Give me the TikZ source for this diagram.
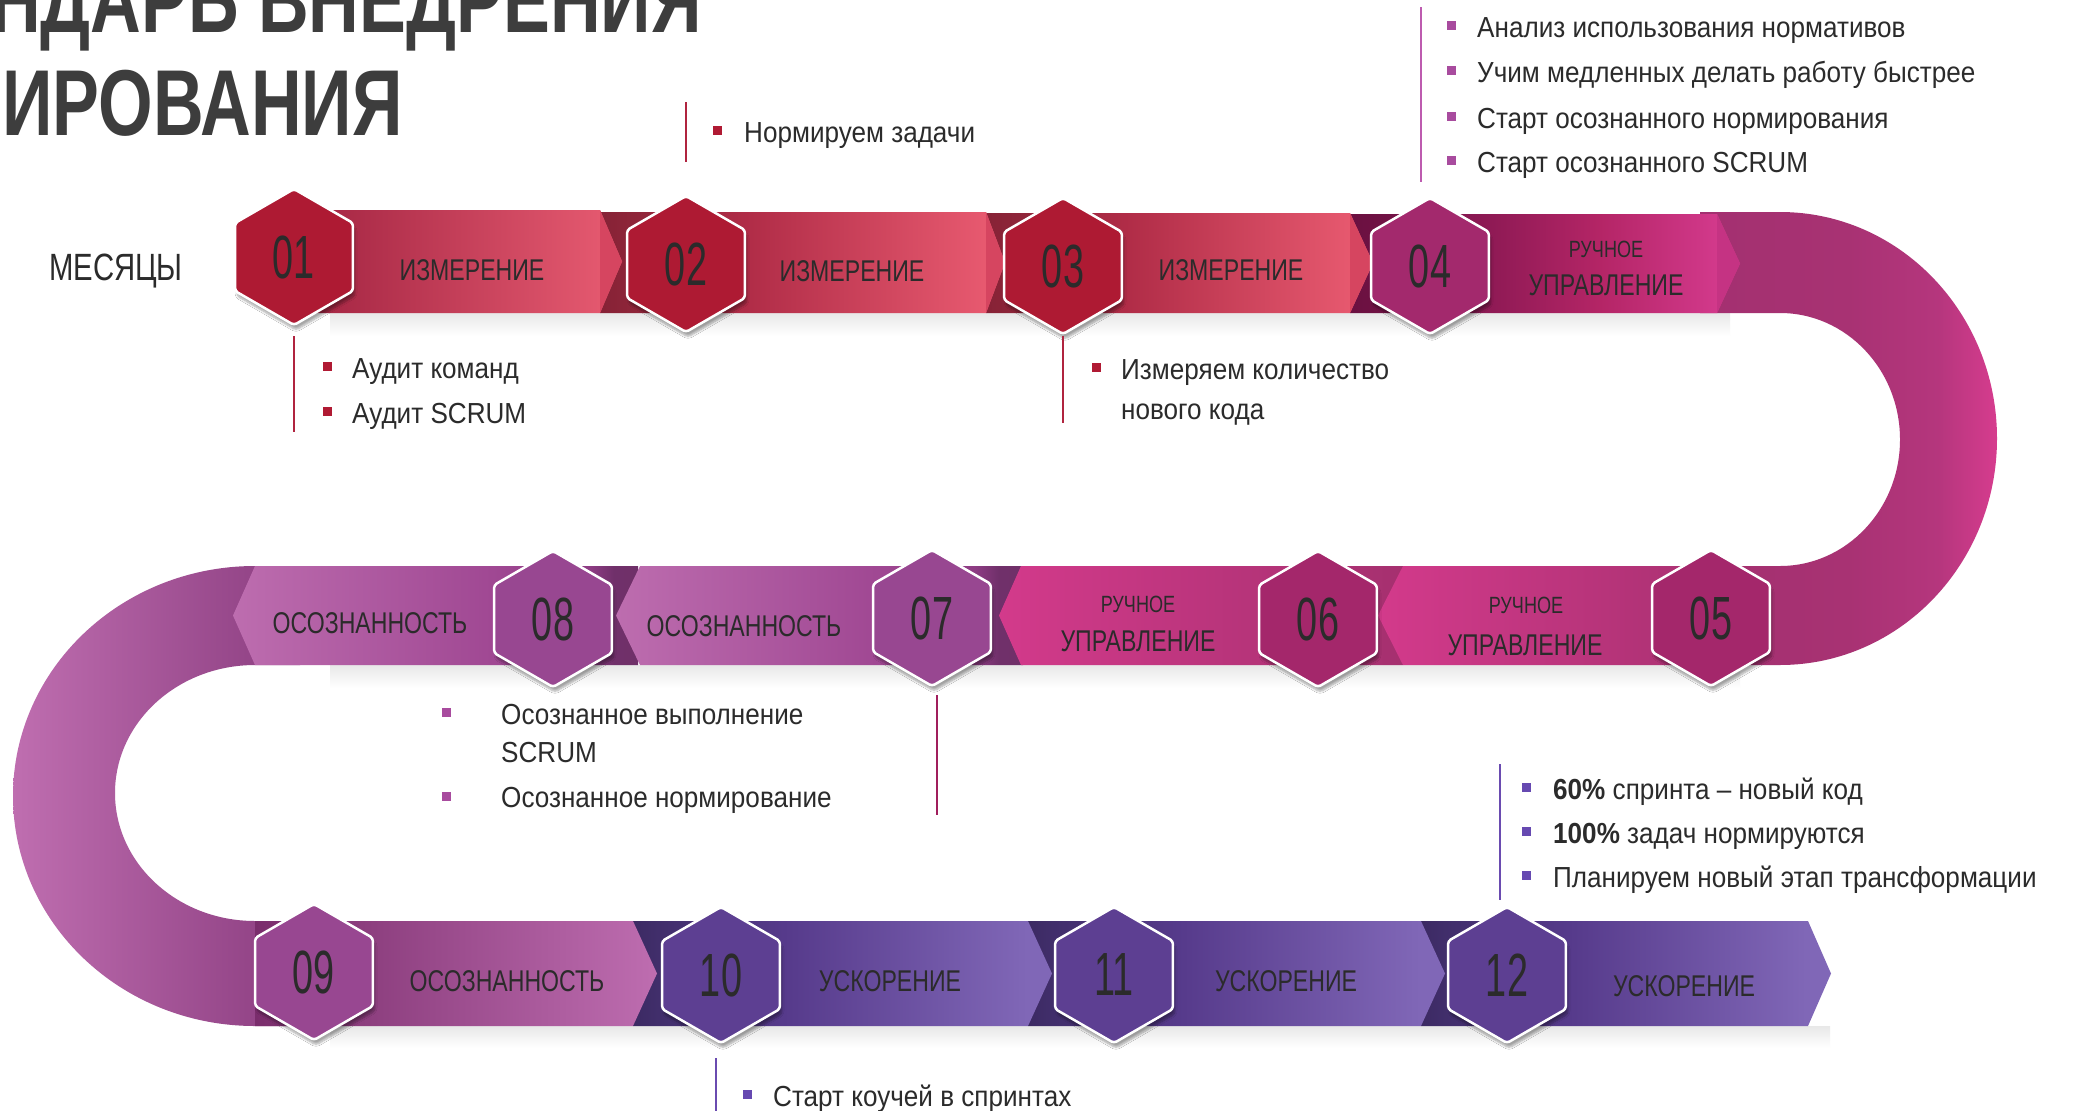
\documentclass[tikz,border=0pt]{standalone}
\usepackage{fontspec}
\setmainfont{Liberation Sans}
\newfontfamily\bodyf[FakeStretch=0.9]{Liberation Sans}
\newfontfamily\condf[FakeStretch=0.77]{Liberation Sans}
\newfontfamily\numf[FakeStretch=0.62]{Liberation Sans}
\newfontfamily\titlef[FakeStretch=0.75]{Liberation Sans}
\usetikzlibrary{shapes.geometric,shadows.blur}

\definecolor{txtc}{HTML}{2B2B2B}
\definecolor{ttlc}{HTML}{3D3D3D}
\definecolor{hexred}{HTML}{AE1A33}
\definecolor{hexmag}{HTML}{A3296D}
\definecolor{hexmagb}{HTML}{A4276B}
\definecolor{hexorc}{HTML}{984791}
\definecolor{hexind}{HTML}{5D3F92}
\definecolor{bulred}{HTML}{B01A33}
\definecolor{bulmag}{HTML}{A84B9E}
\definecolor{bulind}{HTML}{6649B1}
\definecolor{linred}{HTML}{B0243F}
\definecolor{linmag}{HTML}{BD5BAF}
\definecolor{linsev}{HTML}{A01E5C}
\definecolor{linind}{HTML}{6A4BB0}
\definecolor{tipred}{HTML}{D64560}
\definecolor{tipmag}{HTML}{C53383}
\definecolor{sOa}{HTML}{A02240}
\definecolor{sOb}{HTML}{E85C72}
\definecolor{pk}{HTML}{D33A8B}
\definecolor{pkd}{HTML}{A5306F}
\definecolor{sNa}{HTML}{7A2D6C}
\definecolor{sNb}{HTML}{BE6DB0}
\definecolor{cLa}{HTML}{BF6EB0}
\definecolor{cLb}{HTML}{86387B}

\definecolor{rA}{HTML}{862236}
\definecolor{rB}{HTML}{8E2539}
\definecolor{rC}{HTML}{B02C47}
\definecolor{rD}{HTML}{E85A70}
\pgfdeclarehorizontalshading{shRed}{100bp}{color(0bp)=(rA); color(25bp)=(rA); color(29bp)=(rB); color(43bp)=(rC); color(73bp)=(rD); color(100bp)=(rD)}
\definecolor{mA}{HTML}{6A1040}
\definecolor{mB}{HTML}{701244}
\definecolor{mC}{HTML}{8F1A55}
\definecolor{mD}{HTML}{B42566}
\definecolor{mE}{HTML}{D2398B}
\pgfdeclarehorizontalshading{shMag}{100bp}{color(0bp)=(mA); color(25bp)=(mA); color(29bp)=(mB); color(43bp)=(mC); color(57bp)=(mD); color(72bp)=(mE); color(100bp)=(mE)}
\definecolor{oA}{HTML}{BD6DAF}
\definecolor{oB}{HTML}{A04893}
\definecolor{oC}{HTML}{8E3C84}
\definecolor{oD}{HTML}{70306A}
\definecolor{oE}{HTML}{6A2B5E}
\pgfdeclarehorizontalshading{shOrc}{100bp}{color(0bp)=(oA); color(25bp)=(oA); color(57bp)=(oB); color(69bp)=(oC); color(72bp)=(oD); color(100bp)=(oE)}
\definecolor{iA}{HTML}{3C2A63}
\definecolor{iB}{HTML}{412E6B}
\definecolor{iC}{HTML}{563A8B}
\definecolor{iD}{HTML}{8067B7}
\pgfdeclarehorizontalshading{shInd}{100bp}{color(0bp)=(iA); color(25bp)=(iA); color(28bp)=(iB); color(43bp)=(iC); color(72bp)=(iD); color(100bp)=(iD)}
\definecolor{cA}{HTML}{A33070}
\definecolor{cB}{HTML}{A83273}
\definecolor{cC}{HTML}{B5367D}
\definecolor{cD}{HTML}{D63C8E}
\pgfdeclarehorizontalshading{shCurve}{100bp}{color(0bp)=(cA); color(25bp)=(cA); color(50bp)=(cB); color(65bp)=(cC); color(75bp)=(cD); color(100bp)=(cD)}

\newcommand\ribbon[6]{\shade[#6] (#1,#4) -- (#2,#4) -- (#3,{(#4+#5)/2}) -- (#2,#5) -- (#1,#5) -- cycle;}
\newcommand\tipR[5]{\fill[#5] (#1,#3) -- (#2,{(#3+#4)/2}) -- (#1,#4) -- cycle;}

\begin{document}
\begin{tikzpicture}[x=1pt,y=-1pt,
  hexa/.style={regular polygon, regular polygon sides=6, shape border rotate=30, minimum size=136pt, inner sep=0pt, draw=white, line width=2.5pt, rounded corners=3pt, blur shadow={shadow xshift=2pt, shadow yshift=-5pt, shadow opacity=35, shadow blur steps=8}, font=\numf\fontsize{61}{61}\selectfont, text=txtc},
  lbl/.style={font=\condf\fontsize{30}{30}\selectfont, text=txtc, inner sep=0pt, anchor=base},
  lbls/.style={font=\condf\fontsize{23.5}{24}\selectfont, text=txtc, inner sep=0pt, anchor=base},
  btxt/.style={font=\bodyf\fontsize{29}{30}\selectfont, text=txtc, inner sep=0pt, anchor=base west},
  bul/.style={rectangle, minimum size=9pt, inner sep=0pt, fill=#1},
  vline/.style={draw=#1, line width=2pt},
  ttl/.style={font=\titlef\bfseries\fontsize{93.6}{94}\selectfont, text=ttlc, inner sep=0pt, anchor=base east},
  bandshadow/.style={top color=black!9, bottom color=white}
]
\path[use as bounding box] (0,0) rectangle (2083,1111);
\clip (0,0) rectangle (2083,1111);
\fill[white] (0,0) rectangle (2083,1111);

% title
\node[ttl] (title1) at (702,32) {КАЛЕНДАРЬ ВНЕДРЕНИЯ};
\node[ttl] (title2) at (403,135) {НОРМИРОВАНИЯ};

% band shadows
\shade[bandshadow] (330,313) rectangle (1730,336);
\shade[bandshadow] (330,665) rectangle (1740,688);
\shade[bandshadow] (330,1026) rectangle (1830,1048);

% curves
\shade[shading=shCurve] (1700,212) -- (1780,212) arc[start angle=-90,end angle=90,x radius=217,y radius=226.5] -- (1740,665) -- (1740,566) -- (1780,566) arc[start angle=90,end angle=-90,x radius=120,y radius=126.5] -- (1700,313) -- cycle;
\shade[left color=cLa, right color=cLb] (300,566) -- (255,566) arc[start angle=270,end angle=90,x radius=242,y radius=230] -- (330,1026) -- (330,921) -- (255,921) arc[start angle=90,end angle=270,x radius=140,y radius=128] -- (300,665) -- cycle;

% row 1
\ribbon{1350}{1717}{1740}{214}{313}{shading=shMag}
\tipR{1717}{1740}{214}{313}{tipmag}
\ribbon{986}{1350}{1373}{213}{313}{shading=shRed}
\tipR{1350}{1373}{213}{313}{tipred}
\ribbon{600}{986}{1005}{212}{313}{shading=shRed}
\tipR{986}{1005}{212}{313}{tipred}
\ribbon{294}{600}{622}{210}{313}{left color=sOa, right color=sOb}
\tipR{600}{622}{210}{313}{tipred}

% row 2
\ribbon{638}{255}{233}{566}{665}{shading=shOrc}
\ribbon{1023}{640}{616}{566}{665}{shading=shOrc}
\ribbon{1403}{1021}{999}{566}{665}{left color=pk, right color=pkd}
\ribbon{1750}{1403}{1378}{566}{665}{left color=pk, right color=pkd}

% row 3
\ribbon{1421}{1808}{1831}{921}{1026}{shading=shInd}
\ribbon{1028}{1421}{1445}{921}{1026}{shading=shInd}
\ribbon{633}{1028}{1052}{921}{1026}{shading=shInd}
\ribbon{255}{633}{657}{921}{1026}{left color=sNa, right color=sNb}

% hexagons
\node[hexa, fill=hexred] (h01) at (294,257) {01};
\node[hexa, fill=hexred] (h02) at (686,264) {02};
\node[hexa, fill=hexred] (h03) at (1063,266) {03};
\node[hexa, fill=hexmag] (h04) at (1430,266) {04};
\node[hexa, fill=hexmagb] (h05) at (1711,618) {05};
\node[hexa, fill=hexmagb] (h06) at (1318,619) {06};
\node[hexa, fill=hexorc] (h07) at (932,618) {07};
\node[hexa, fill=hexorc] (h08) at (553,619) {08};
\node[hexa, fill=hexorc] (h09) at (314,972) {09};
\node[hexa, fill=hexind] (h10) at (721,975) {10};
\node[hexa, fill=hexind] (h11) at (1114,975) {11};
\node[hexa, fill=hexind] (h12) at (1507,975) {12};

% band labels
\node[font=\condf\fontsize{38}{38}\selectfont, text=txtc, inner sep=0pt, anchor=base] (months) at (116,280) {МЕСЯЦЫ};
\node[lbl] (lab1) at (472,280) {ИЗМЕРЕНИЕ};
\node[lbl] (lab2) at (852,281) {ИЗМЕРЕНИЕ};
\node[lbl] (lab3) at (1231,280) {ИЗМЕРЕНИЕ};
\node[lbls] (lab4a) at (1606,257) {РУЧНОЕ};
\node[lbl] (lab4b) at (1606,295) {УПРАВЛЕНИЕ};
\node[lbls] (lab5a) at (1526,613) {РУЧНОЕ};
\node[lbl] (lab5b) at (1525,655) {УПРАВЛЕНИЕ};
\node[lbls] (lab6a) at (1138,612) {РУЧНОЕ};
\node[lbl] (lab6b) at (1138,651) {УПРАВЛЕНИЕ};
\node[lbl] (lab7) at (744,636) {ОСОЗНАННОСТЬ};
\node[lbl] (lab8) at (370,633) {ОСОЗНАННОСТЬ};
\node[lbl] (lab9) at (507,991) {ОСОЗНАННОСТЬ};
\node[lbl] (lab10) at (890,991) {УСКОРЕНИЕ};
\node[lbl] (lab11) at (1286,991) {УСКОРЕНИЕ};
\node[lbl] (lab12) at (1684,996) {УСКОРЕНИЕ};

% notes: month 01
\coordinate (v1a) at (294,336); \coordinate (v1b) at (294,432);
\draw[vline=linred] (v1a) -- (v1b);
\node[bul=bulred] (b1a) at (327,366) {};
\node[btxt] (t1a) at (352,378) {Аудит команд};
\node[bul=bulred] (b1b) at (327,411) {};
\node[btxt] (t1b) at (352,423) {Аудит SCRUM};

% month 02
\coordinate (v2a) at (686,102); \coordinate (v2b) at (686,162);
\draw[vline=linred] (v2a) -- (v2b);
\node[bul=bulred] (b2) at (717,130) {};
\node[btxt] (t2) at (744,142) {Нормируем задачи};

% month 03
\coordinate (v3a) at (1063,336); \coordinate (v3b) at (1063,423);
\draw[vline=linred] (v3a) -- (v3b);
\node[bul=bulred] (b3) at (1096,367) {};
\node[btxt] (t3a) at (1121,379) {Измеряем количество};
\node[btxt] (t3b) at (1121,419) {нового кода};

% month 04
\coordinate (v4a) at (1421,7); \coordinate (v4b) at (1421,182);
\draw[vline=linmag] (v4a) -- (v4b);
\node[bul=bulmag] (b4a) at (1451,25) {};
\node[btxt] (t4a) at (1477,37) {Анализ использования нормативов};
\node[bul=bulmag] (b4b) at (1451,70) {};
\node[btxt] (t4b) at (1477,82) {Учим медленных делать работу быстрее};
\node[bul=bulmag] (b4c) at (1451,116) {};
\node[btxt] (t4c) at (1477,128) {Старт осознанного нормирования};
\node[bul=bulmag] (b4d) at (1451,160) {};
\node[btxt] (t4d) at (1477,172) {Старт осознанного SCRUM};

% month 07 line and 08 notes
\coordinate (v7a) at (937,695); \coordinate (v7b) at (937,815);
\draw[vline=linsev] (v7a) -- (v7b);
\node[bul=bulmag] (b8a) at (446,712) {};
\node[btxt] (t8a) at (501,724) {Осознанное выполнение};
\node[btxt] (t8b) at (501,762) {SCRUM};
\node[bul=bulmag] (b8b) at (446,796) {};
\node[btxt] (t8c) at (501,807) {Осознанное нормирование};

% month 12
\coordinate (v12a) at (1500,764); \coordinate (v12b) at (1500,900);
\draw[vline=linind] (v12a) -- (v12b);
\node[bul=bulind] (b12a) at (1526,787) {};
\node[btxt] (t12a) at (1553,799) {\textbf{60\%} спринта – новый код};
\node[bul=bulind] (b12b) at (1526,831) {};
\node[btxt] (t12b) at (1553,843) {\textbf{100\%} задач нормируются};
\node[bul=bulind] (b12c) at (1526,875) {};
\node[btxt] (t12c) at (1553,887) {Планируем новый этап трансформации};

% month 10
\coordinate (v10a) at (716,1058); \coordinate (v10b) at (716,1111);
\draw[vline=linind] (v10a) -- (v10b);
\node[bul=bulind] (b10) at (747,1094) {};
\node[btxt] (t10) at (773,1106) {Старт коучей в спринтах};
\end{tikzpicture}
\end{document}
